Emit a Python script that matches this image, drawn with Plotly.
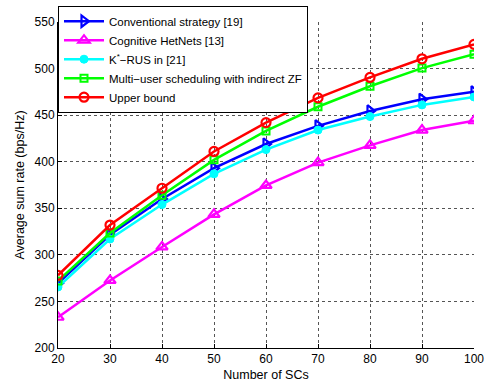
import plotly.graph_objects as go

x_scs = [20, 30, 40, 50, 60, 70, 80, 90, 100]
conventional = [269.5, 321.5, 360, 393, 419, 438.5, 454.5, 467, 475]
cognitive = [233, 272.5, 308.5, 343.5, 374.5, 399, 417.5, 434, 444]
krus = [265.5, 317, 354, 387, 413, 434, 448.5, 461, 469.5]
multiuser = [272, 323.5, 364, 402, 433, 459, 481, 500.5, 515.5]
upper = [278, 332, 371.5, 411, 442, 468.5, 490.5, 510.5, 526]

names = ["Conventional strategy [19]", "Cognitive HetNets [13]",
         "K<sup>*</sup>\u2212RUS in [21]", "Multi\u2212user scheduling with indirect ZF",
         "Upper bound"]

series = [
    (conventional, "#0000ff", dict(symbol="triangle-right-open", size=10, line=dict(width=2.2, color="#0000ff"))),
    (cognitive, "#ff00ff", dict(symbol="triangle-up-open", size=10, line=dict(width=2.2, color="#ff00ff"))),
    (krus, "#00ffff", dict(symbol="circle", size=8, color="#00ffff", line=dict(width=1, color="#00ffff"))),
    (multiuser, "#00ff00", dict(symbol="square-open", size=7, line=dict(width=2, color="#00ff00"))),
    (upper, "#ff0000", dict(symbol="circle-open", size=9, line=dict(width=2.2, color="#ff0000"))),
]

fig = go.Figure()
for (vals, col, mk), nm in zip(series, names):
    fig.add_trace(go.Scatter(x=x_scs, y=vals, mode="lines+markers", name=nm,
                             line=dict(color=col, width=2.5), marker=mk))

axis_common = dict(
    showgrid=True, gridcolor="#555555", griddash="dot", gridwidth=1,
    showline=True, linecolor="black", linewidth=1, mirror=False,
    ticks="inside", ticklen=4, tickcolor="black", zeroline=False, automargin=False,
    tickfont=dict(family="Liberation Sans, Arial, sans-serif", size=12, color="black"),
)

fig.update_layout(
    width=488, height=384,
    margin=dict(l=58, r=14, t=21.5, b=35.5, autoexpand=False),
    paper_bgcolor="white", plot_bgcolor="white",
    font=dict(family="Liberation Sans, Arial, sans-serif", size=12, color="black"),
    xaxis=dict(range=[20, 100], dtick=10, title=dict(text="Number of SCs", standoff=4,
               font=dict(size=12.5)), **axis_common),
    yaxis=dict(range=[200, 550], dtick=50, title=dict(text="Average sum rate (bps/Hz)", standoff=7,
               font=dict(size=12.5)), **axis_common),
    legend=dict(x=0, y=1.05, xanchor="left", yanchor="top", bgcolor="white",
                bordercolor="black", borderwidth=1, font=dict(size=11.5),
                tracegroupgap=0, itemwidth=40),
    showlegend=True,
)

fig.write_html("out.html", config={"displayModeBar": False},
               post_script="document.body.style.margin='0px';")
